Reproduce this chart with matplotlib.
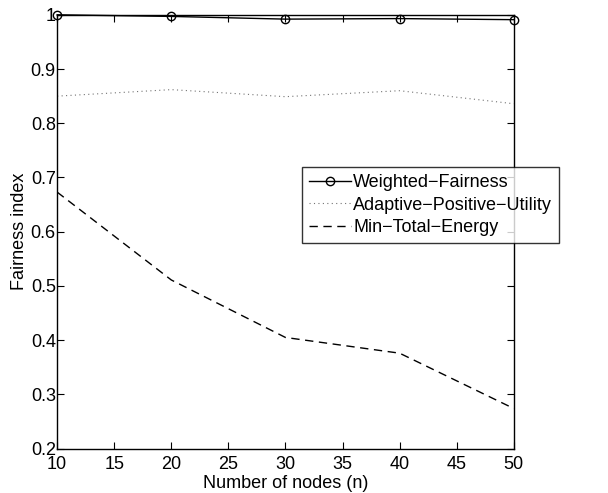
import numpy as np
import matplotlib.pyplot as plt

plt.rcParams['font.family'] = ['Liberation Sans', 'DejaVu Sans']

nodes = [10, 20, 30, 40, 50]
weighted_fair = [1.0, 0.997, 0.992, 0.993, 0.991]
adaptive_pos = [0.85, 0.862, 0.849, 0.86, 0.836]
min_energy = [0.673, 0.511, 0.405, 0.376, 0.274]

fig = plt.figure(figsize=(6.08, 4.93), dpi=100)
ax = fig.add_axes([0.094, 0.090, 0.751, 0.880])

ax.plot(nodes, weighted_fair, color='k', linewidth=1.0, marker='o',
        markersize=6, markerfacecolor='none', markeredgewidth=1.0,
        label='Weighted\u2212Fairness', clip_on=False)
ax.plot(nodes, adaptive_pos, color='0.45', linestyle=(0, (1, 3)), linewidth=0.8,
        label='Adaptive\u2212Positive\u2212Utility')
ax.plot(nodes, min_energy, color='k', linestyle=(0, (6, 4)), linewidth=1.0,
        label='Min\u2212Total\u2212Energy')

ax.set_xlim(10, 50)
ax.set_ylim(0.2, 1.0)
ax.set_xticks(np.arange(10, 51, 5))
ax.set_yticks(np.arange(0.2, 1.01, 0.1))
ax.set_yticklabels(['0.2', '0.3', '0.4', '0.5', '0.6', '0.7', '0.8', '0.9', '1'])
ax.tick_params(direction='in', top=True, right=True, labelsize=13, length=5)
ax.tick_params(axis='x', pad=5)
ax.tick_params(axis='y', pad=1)
for s in ax.spines.values():
    s.set_linewidth(1.0)

ax.set_xlabel('Number of nodes (n)', fontsize=13, labelpad=2)
ax.set_ylabel('Fairness index', fontsize=13, labelpad=2)

leg = ax.legend(loc='upper left', bbox_to_anchor=(0.536, 0.649), fontsize=13,
                frameon=True, fancybox=False, borderpad=0.4, labelspacing=0.3,
                handlelength=2.3, handletextpad=0.15, borderaxespad=0)
leg.get_frame().set_edgecolor('k')
leg.get_frame().set_linewidth(1.0)

fig.savefig('out.png', dpi=100)
